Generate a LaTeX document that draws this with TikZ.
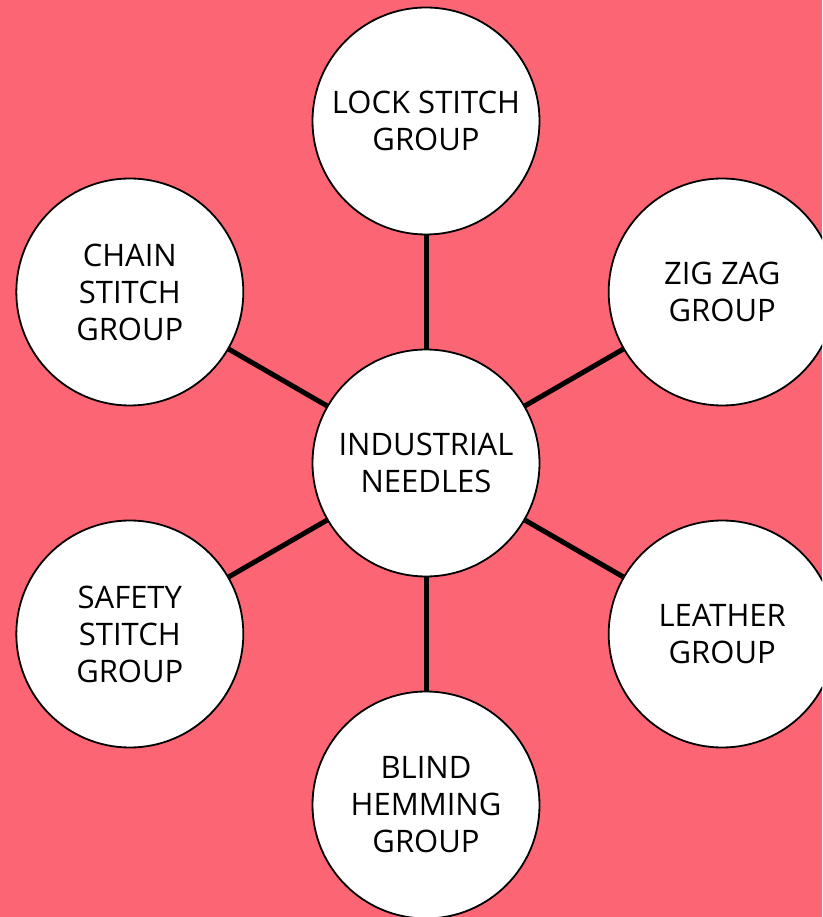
\documentclass[tikz,border=0pt]{standalone}
\usepackage{fontspec}
\setmainfont{Open Sans}
\definecolor{bgpink}{RGB}{252,102,116}

\begin{document}
\begin{tikzpicture}[x=1pt,y=1pt,
        grp/.style={circle,draw,line width=1.8pt,fill=white,minimum size=227pt,
        inner sep=0pt,align=center,font=\fontsize{31}{37}\selectfont},
        link/.style={line width=5pt}]
        \clip (-426,-454) rectangle (396,463);
        \fill[bgpink] (-426,-454) rectangle (396,463);

        \node[grp] (needles) at (0,0) {INDUSTRIAL\\NEEDLES};
        \node[grp] (lock)    at (90:342)  {LOCK STITCH\\GROUP};
        \node[grp] (zigzag)  at (30:342)  {ZIG ZAG\\GROUP};
        \node[grp] (chain)   at (150:342) {CHAIN\\STITCH\\GROUP};
        \node[grp] (safety)  at (210:342) {SAFETY\\STITCH\\GROUP};
        \node[grp] (leather) at (330:342) {LEATHER\\GROUP};
        \node[grp] (blind)   at (270:342) {BLIND\\HEMMING\\GROUP};

        \foreach \n in {lock, zigzag, chain, safety, leather, blind}{
            \draw[link] (needles) -- (\n);
        }
    \end{tikzpicture}
\end{document}
